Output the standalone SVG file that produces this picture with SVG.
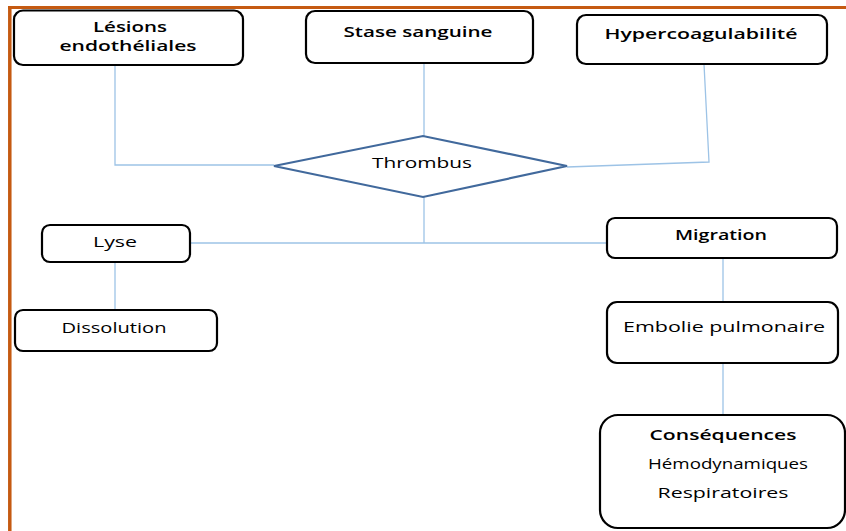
<svg xmlns="http://www.w3.org/2000/svg" width="846" height="531" viewBox="0 0 846 531">
<style>
.box{fill:#fff;stroke:#000;stroke-width:2.2}
.dia{fill:#fff;stroke:#41699c;stroke-width:2.2}
.conn{fill:none;stroke:#9dc3e6;stroke-width:1.3}
text{font-family:"Open Sans","Liberation Sans",sans-serif;font-weight:600;font-size:15px;fill:#000;text-anchor:middle}
.lt{font-weight:500}
</style>
<rect width="846" height="531" fill="#fff"/>
<g id="frame">
<line x1="8" y1="7.5" x2="846" y2="7.5" stroke="#c55a11" stroke-width="3"/>
<line x1="9.8" y1="6" x2="9.8" y2="531" stroke="#c55a11" stroke-width="3.5"/>
</g>
<g id="connectors">
<polyline class="conn" points="115,65 115,165 274,165"/>
<line class="conn" x1="424" y1="63" x2="424" y2="136"/>
<polyline class="conn" points="704,64 709,162 567,167"/>
<line class="conn" x1="424" y1="197" x2="424" y2="243"/>
<line class="conn" x1="190" y1="243" x2="607" y2="243"/>
<line class="conn" x1="115" y1="262" x2="115" y2="310"/>
<line class="conn" x1="723" y1="258" x2="723" y2="302"/>
<line class="conn" x1="723" y1="363" x2="723" y2="415"/>
</g>
<g id="lesions">
<rect class="box" x="14" y="10.5" width="229" height="54.5" rx="9"/>
<text x="130" y="32" textLength="74" lengthAdjust="spacingAndGlyphs">Lésions</text>
<text x="128" y="51" textLength="137" lengthAdjust="spacingAndGlyphs">endothéliales</text>
</g>
<g id="stase">
<rect class="box" x="306" y="11" width="227" height="52" rx="9"/>
<text x="418" y="37" textLength="149" lengthAdjust="spacingAndGlyphs">Stase sanguine</text>
</g>
<g id="hyper">
<rect class="box" x="577" y="15" width="250" height="49" rx="9"/>
<text x="701" y="39" textLength="193" lengthAdjust="spacingAndGlyphs">Hypercoagulabilité</text>
</g>
<g id="thrombus">
<polygon class="dia" points="274,166 423,136 567,166 423,197"/>
<text class="lt" x="422" y="168" textLength="100" lengthAdjust="spacingAndGlyphs">Thrombus</text>
</g>
<g id="lyse">
<rect class="box" x="42" y="225" width="148" height="37" rx="8"/>
<text class="lt" x="115" y="247" textLength="44" lengthAdjust="spacingAndGlyphs">Lyse</text>
</g>
<g id="dissolution">
<rect class="box" x="15" y="310" width="202" height="41" rx="8"/>
<text class="lt" x="114" y="333" textLength="105" lengthAdjust="spacingAndGlyphs">Dissolution</text>
</g>
<g id="migration">
<rect class="box" x="607" y="218" width="230" height="40" rx="8"/>
<text x="721" y="240" textLength="92" lengthAdjust="spacingAndGlyphs">Migration</text>
</g>
<g id="embolie">
<rect class="box" x="607" y="302" width="231" height="61" rx="10"/>
<text class="lt" x="724" y="332" textLength="202" lengthAdjust="spacingAndGlyphs">Embolie pulmonaire</text>
</g>
<g id="consequences">
<rect class="box" x="600" y="415" width="245" height="113" rx="18"/>
<text x="723" y="440" textLength="147" lengthAdjust="spacingAndGlyphs">Conséquences</text>
<text class="lt" x="728" y="469" textLength="160" lengthAdjust="spacingAndGlyphs">Hémodynamiques</text>
<text class="lt" x="723" y="498" textLength="131" lengthAdjust="spacingAndGlyphs">Respiratoires</text>
</g>
</svg>
